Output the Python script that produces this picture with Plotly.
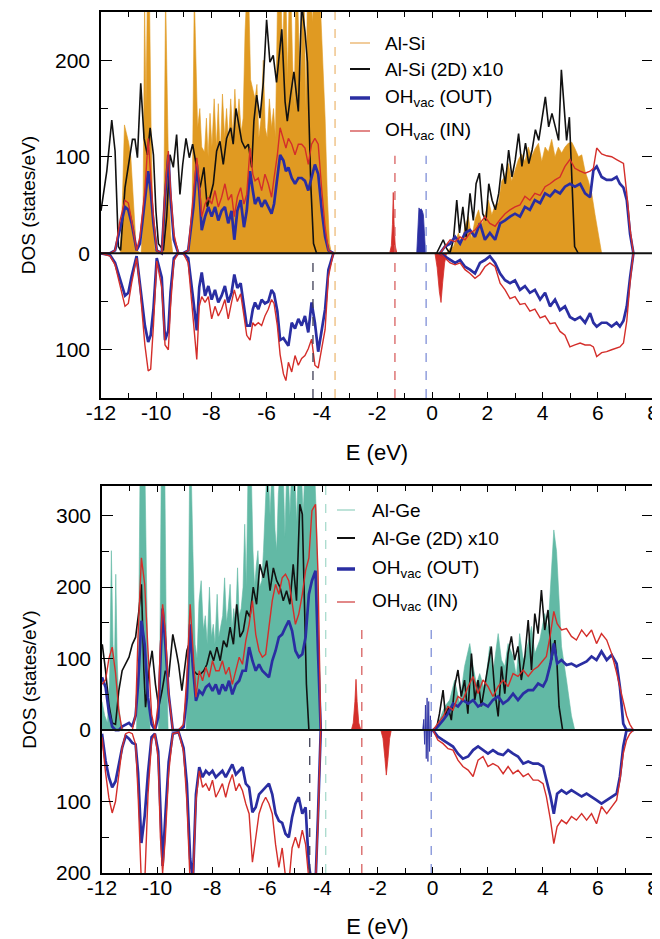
import plotly.graph_objects as go

# ======================= DATA =======================
# ---- Top panel (Al-Si) ----
top_v_E = [-12.00,-11.67,-11.49,-11.31,-11.13,-11.01,-10.89,-10.71,-10.59,-10.41,
           -10.29,-10.20,-10.10,-9.98,-9.80,-9.68,-9.56,-9.48,-9.36,-9.20,
           -9.02,-8.84,-8.65,-8.53,-8.44,-8.35,-8.23,-8.11,-7.99,-7.87,
           -7.75,-7.63,-7.51,-7.39,-7.27,-7.17,-7.06,-6.94,-6.82,-6.72,
           -6.60,-6.50,-6.42,-6.30,-6.18,-6.06,-5.94,-5.82,-5.73,-5.61,
           -5.51,-5.39,-5.30,-5.21,-5.09,-4.97,-4.85,-4.73,-4.61,-4.49,
           -4.37,-4.25,-4.13,-4.00,-3.88,-3.76,-3.58]
top_v_out_up = [0,0,3,27,48,45,31,3,10,55, 85,65,31,3,0,58,102,58,14,0,
                0,3,48,92,65,24,38,48,38,48, 34,44,48,31,44,14,44,55,27,44,
                85,65,51,58,48,55,48,41,51,78, 102,96,85,89,78,72,78,78,75,65,
                78,92,82,44,17,3,0]
top_v_in_up = [0,0,3,34,55,52,34,3,17,65, 119,78,38,3,0,65,106,65,20,0,
               0,3,58,99,72,38,51,58,51,65, 48,58,72,55,61,38,58,68,51,61,
               109,82,75,78,65,82,72,58,78,102, 130,119,109,119,113,102,113,113,109,92,
               113,119,113,65,27,3,0]
top_v_out_dn = [0,-2,-10,-27,-44,-41,-24,-3,-30,-75, -92,-85,-58,-5,-25,-90,-80,-40,-5,0,
                0,-5,-50,-80,-35,-20,-44,-34,-48,-38, -51,-44,-34,-51,-41,-22,-36,-31,-55,-75,
                -75,-58,-51,-58,-48,-52,-50,-38,-42,-60, -90,-88,-92,-96,-72,-78,-68,-75,-65,-82,
                -51,-72,-102,-79,-58,-17,0]
top_v_in_dn = [0,-3,-12,-35,-55,-52,-31,-5,-35,-95, -122,-120,-75,-8,-35,-95,-100,-55,-8,0,
               0,-10,-70,-110,-55,-45,-51,-45,-68,-55, -65,-58,-48,-68,-51,-38,-50,-42,-65,-85,
               -90,-72,-75,-72,-75,-65,-58,-48,-52,-75, -105,-125,-132,-113,-123,-106,-116,-109,-106,-99,
               -89,-116,-119,-99,-79,-24,0]

top_c_E = [0.28,0.46,0.65,0.83,1.01,1.19,1.37,1.55,1.73,1.91,
           2.09,2.28,2.46,2.64,2.82,3.00,3.18,3.36,3.54,3.72,
           3.91,4.09,4.27,4.45,4.63,4.81,4.99,5.17,5.36,5.54,
           5.72,5.84,5.96,6.14,6.32,6.50,6.68,6.80,6.93,7.05,
           7.17,7.29]
top_c_out_up = [0,7,10,17,10,21,24,17,31,14, 21,14,31,34,38,41,38,48,45,55,
                52,62,59,65,62,69,72,69,72,62, 58,86,90,79,76,76,79,72,68,55, 20,0]
top_c_in_up = [0,7,14,12,17,14,21,24,31,38, 31,28,35,41,45,48,50,59,55,62,
               60,69,72,76,79,90,97,88,85,83, 85,88,109,103,101,100,97,95,93,62, 25,0]
top_c_out_dn = [0,-3,-7,-10,-7,-14,-17,-21,-10,-7, -3,-10,-21,-28,-31,-28,-38,-34,-41,-38,
                -48,-41,-55,-48,-59,-55,-66,-69,-66,-72, -62,-72,-76,-72,-72,-76,-72,-76,-70,-55, -25,0]
top_c_in_dn = [0,-5,-10,-12,-10,-17,-21,-26,-22,-14, -10,-14,-31,-38,-47,-45,-53,-52,-60,-58,
               -67,-65,-73,-72,-81,-85,-97,-95,-93,-95, -95,-97,-107,-103,-102,-100,-98,-97,-93,-70, -30,0]

top_2d_vE = [-12.00,-11.79,-11.61,-11.49,-11.37,-11.29,-11.13,-11.01,-10.86,-10.77,
             -10.68,-10.56,-10.44,-10.32,-10.22,-10.10,-10.01,-9.92,-9.74,-9.62,
             -9.50,-9.38,-9.26,-9.14,-9.04,-8.92,-8.80,-8.68,-8.53,-8.41,
             -8.27,-8.15,-8.05,-7.93,-7.81,-7.69,-7.57,-7.45,-7.30,-7.21,
             -7.11,-7.02,-6.90,-6.78,-6.66,-6.54,-6.46,-6.36,-6.24,-6.12,
             -6.00,-5.88,-5.76,-5.64,-5.45,-5.33,-5.25,-5.13,-5.01,-4.85,
             -4.73,-4.61,-4.52,-4.40,-4.30,-4.19]
top_2d_v = [44,85,138,106,7,3,68,89,118,118, 99,176,119,102,130,102,44,10,3,38,
            102,89,123,61,92,119,99,113,89,68, 89,48,58,72,106,116,92,119,130,113,
            150,137,116,109,113,89,137,164,140,177, 242,198,205,177,232,157,137,164,188,147,
            258,230,198,72,10,0]
top_2d_cE = [0.16,0.28,0.40,0.52,0.64,0.77,0.89,0.99,1.11,1.23,
             1.37,1.49,1.59,1.71,1.83,1.95,2.05,2.17,2.29,2.41,
             2.53,2.65,2.77,2.89,3.01,3.13,3.25,3.38,3.50,3.62,
             3.74,3.86,3.98,4.10,4.22,4.34,4.46,4.58,4.68,4.77,
             4.87,4.97,5.06,5.16,5.29]
top_2d_c = [0,7,14,5,0,14,55,21,48,17, 62,34,72,83,41,34,72,55,45,62,
            93,72,107,79,97,124,90,114,93,107, 128,117,141,162,131,145,131,117,190,155,
            117,141,69,7,0]

top_bulk_vE = [-11.30,-11.22,-11.15,-11.08,-11.00,-10.92,-10.84,-10.78,-10.72,-10.55,
               -10.48,-10.42,-10.37,-10.32,-10.25,-10.18,-10.12,-10.05,-9.95,-9.80,
               -9.72,-9.66,-9.60,-9.55,-9.48,-9.40,-8.80,-8.70,-8.62,-8.55,
               -8.50,-8.42,-8.35,-8.25,-8.18,-8.12,-8.05,-7.98,-7.90,-7.82,
               -7.75,-7.68,-7.60,-7.52,-7.45,-7.38,-7.30,-7.22,-7.15,-7.08,
               -7.00,-6.92,-6.85,-6.78,-6.72,-6.65,-6.58,-6.50,-6.42,-6.35,
               -6.28,-6.20,-6.12,-6.05,-5.98,-5.90,-5.82,-5.75,-5.68,-5.60,
               -5.55,-5.48,-5.42,-5.36,-5.30,-5.24,-5.18,-5.12,-5.06,-5.00,
               -4.94,-4.88,-4.82,-4.76,-4.70,-4.64,-4.58,-4.52,-4.46,-4.40,
               -4.34,-4.28,-4.20,-4.12,-4.04,-3.96,-3.88,-3.80,-3.72,-3.65]
top_bulk_v = [0,60,133,125,115,100,60,20,3,0, 30,260,150,270,280,120,40,5,0,0,
              60,270,160,80,20,0,0,40,270,200, 130,150,110,105,140,100,145,110,160,110,
              155,100,165,120,150,115,160,120,170,130, 160,125,140,230,270,270,180,170,160,175,
              120,140,200,130,120,160,130,150,120,270, 270,270,200,270,270,180,270,270,200,150,
              270,270,210,180,270,270,150,270,270,270, 240,270,270,270,250,200,140,60,10,0]
top_bulk_cE = [0.52,0.64,0.77,0.95,1.07,1.19,1.31,1.43,1.55,1.68,
               1.80,1.92,2.04,2.16,2.28,2.40,2.52,2.64,2.76,2.88,
               3.00,3.12,3.24,3.36,3.48,3.60,3.72,3.85,3.97,4.09,
               4.21,4.33,4.45,4.57,4.69,4.81,4.93,5.06,5.18,5.30,
               5.42,5.54,5.66,5.78,5.90,6.02,6.14]
top_bulk_c = [0,5,7,21,10,28,38,15,35,45, 30,40,55,40,50,52,75,80,93,75,
              85,97,103,95,110,100,108,114,95,110, 105,118,100,110,104,110,114,115,108,100,
              102,85,75,62,40,20,0]

top_in_peak_E = [-1.54,-1.48,-1.44,-1.41,-1.38,-1.34,-1.28]
top_in_peak = [0,8,30,63,30,8,0]
top_out_peak_E = [-0.56,-0.52,-0.48,-0.44,-0.40,-0.36,-0.32,-0.28,-0.24]
top_out_peak = [0,30,47,45,46,44,40,20,0]
top_in_dn_peak_E = [0.10,0.18,0.26,0.32,0.38,0.45,0.52]
top_in_dn_peak = [0,-15,-40,-51,-30,-10,0]

# reference levels (eV) and the DOS range of the dashed marks
top_levels_E = [-4.32, -3.52, -1.35, -0.22]
top_levels_lo = [-150, -150, -150, -150]
top_levels_hi = [0, 250, 101, 101]

# ---- Bottom panel (Al-Ge) ----
bot_v_E = [-12.00,-11.87,-11.75,-11.63,-11.51,-11.39,-11.27,-11.14,-11.02,-10.90,
           -10.78,-10.69,-10.57,-10.45,-10.33,-10.20,-10.08,-9.96,-9.88,-9.80,
           -9.70,-9.58,-9.43,-9.22,-9.04,-8.92,-8.80,-8.70,-8.59,-8.47,
           -8.35,-8.23,-8.11,-7.99,-7.87,-7.75,-7.63,-7.51,-7.39,-7.27,
           -7.14,-7.02,-6.90,-6.78,-6.66,-6.54,-6.42,-6.30,-6.18,-6.06,
           -5.94,-5.82,-5.70,-5.58,-5.46,-5.34,-5.22,-5.10,-4.98,-4.86,
           -4.73,-4.61,-4.49,-4.38,-4.25,-4.16,-4.06]
bot_v_out_up = [74,60,25,5,0,0,5,8,10,5, 20,64,153,120,46,8,0,18,92,170,
                120,50,0,0,4,45,148,88,41,55, 50,60,64,55,64,50,64,55,69,50,
                64,69,83,83,116,97,83,92,83,78, 74,97,111,130,134,144,153,139,111,102,
                106,130,190,209,223,110,0]
bot_v_in_up = [64,70,100,116,80,27,0,0,0,0, 22,134,241,204,111,22,0,37,120,176,
               139,50,0,0,8,74,176,111,46,83, 69,88,74,97,83,83,97,78,88,64,
               83,102,92,125,148,181,134,111,102,106, 144,181,204,190,213,218,209,176,148,162,
               190,223,241,307,316,220,0]
bot_v_out_dn = [-5,-43,-66,-80,-72,-50,-25,-8,-12,-18, -20,-60,-158,-120,-60,-10,-5,-30,-110,-190,
                -120,-45,-5,-3,-25,-75,-180,-210,-90,-52, -66,-57,-62,-57,-66,-62,-57,-66,-57,-48,
                -62,-57,-52,-75,-80,-115,-108,-90,-85,-80, -75,-90,-117,-127,-130,-145,-150,-122,-103,-94,
                -117,-108,-190,-215,-215,-120,0]
bot_v_in_dn = [-10,-60,-95,-116,-100,-60,-25,-5,-3,-5, -20,-90,-215,-215,-90,-15,-5,-40,-150,-200,
               -150,-60,-5,-3,-30,-100,-215,-215,-100,-57, -80,-75,-85,-70,-94,-85,-75,-94,-75,-62,
               -85,-75,-85,-103,-117,-185,-150,-117,-103,-94, -103,-117,-160,-192,-165,-205,-215,-165,-150,-165,
               -140,-160,-210,-215,-215,-130,0]

bot_c_E = [0.01,0.19,0.38,0.56,0.74,0.92,1.10,1.29,1.47,1.65,
           1.83,2.01,2.19,2.38,2.56,2.74,2.92,3.10,3.29,3.47,
           3.65,3.83,4.01,4.13,4.28,4.40,4.52,4.68,4.86,5.04,
           5.22,5.41,5.59,5.77,5.95,6.13,6.32,6.50,6.68,6.80,
           6.92,7.04,7.16,7.29]
bot_c_out_up = [0,5,14,23,37,33,42,37,42,33, 37,33,42,47,37,42,51,42,51,56,
                56,65,61,70,93,121,93,98,91,93, 89,93,96,103,98,110,98,105,93,60, 9,0,0,0]
bot_c_in_up = [0,9,19,33,28,47,42,61,75,51, 70,61,47,61,70,61,79,75,84,75,
               84,89,98,103,135,166,149,140,142,131, 126,140,131,140,121,135,126,107,80,60, 37,20,8,0]
bot_c_out_dn = [0,-9,-14,-19,-23,-33,-40,-37,-28,-23, -28,-33,-28,-33,-35,-28,-33,-37,-47,-44,
                -47,-47,-51,-70,-93,-117,-89,-84,-89,-84, -89,-93,-89,-93,-98,-103,-98,-93,-89,-65, -23,0,0,0]
bot_c_in_dn = [0,-14,-19,-26,-28,-42,-51,-56,-65,-42, -37,-51,-47,-51,-61,-51,-61,-56,-65,-61,
               -70,-70,-75,-93,-126,-159,-135,-126,-131,-121, -126,-117,-126,-117,-131,-107,-117,-107,-98,-70, -33,-14,-5,0]

bot_2d_vE = [-11.99,-11.87,-11.75,-11.63,-11.51,-11.39,-11.27,-11.14,-11.02,-10.90,
             -10.78,-10.66,-10.57,-10.48,-10.42,-10.30,-10.18,-10.06,-9.94,-9.82,
             -9.70,-9.58,-9.43,-9.31,-9.22,-9.10,-9.00,-8.92,-8.80,-8.67,
             -8.55,-8.43,-8.31,-8.19,-8.07,-7.95,-7.83,-7.71,-7.59,-7.47,
             -7.35,-7.23,-7.11,-6.99,-6.87,-6.75,-6.63,-6.51,-6.39,-6.27,
             -6.14,-6.02,-5.90,-5.78,-5.66,-5.54,-5.42,-5.30,-5.18,-5.06,
             -4.94,-4.82,-4.73,-4.64,-4.58,-4.49]
bot_2d_v = [120,83,36,10,8,55,83,92,102,120, 130,167,204,83,32,83,111,64,32,55,
            83,74,134,111,92,55,83,111,125,83, 78,78,83,92,111,97,116,97,125,116,
            144,120,176,130,139,167,158,200,176,232, 213,237,195,227,209,200,181,195,176,232,
            181,316,302,181,64,0]
bot_2d_cE = [0.13,0.25,0.38,0.47,0.56,0.68,0.80,0.92,1.04,1.16,
             1.28,1.41,1.53,1.65,1.77,1.89,2.01,2.13,2.25,2.38,
             2.50,2.62,2.74,2.86,2.98,3.10,3.22,3.35,3.47,3.59,
             3.71,3.83,3.95,4.07,4.19,4.32,4.44,4.52,4.59,4.72]
bot_2d_c = [0,23,56,19,33,14,61,84,47,70, 23,107,42,70,33,61,89,117,56,19,
            89,51,107,131,98,117,70,103,154,84, 163,135,196,140,168,98,126,89,33,0]

bot_bulk_vE = [-12.0,-11.9,-11.8,-11.72,-11.66,-11.60,-11.55,-11.50,-11.45,-11.38,
               -11.30,-11.20,-10.75,-10.68,-10.62,-10.55,-10.50,-10.44,-10.38,-10.32,
               -10.25,-9.95,-9.90,-9.85,-9.78,-9.72,-9.66,-9.60,-8.95,-8.88,
               -8.82,-8.76,-8.70,-8.62,-8.55,-8.48,-8.40,-8.32,-8.25,-8.18,
               -8.10,-8.03,-7.96,-7.90,-7.82,-7.76,-7.70,-7.62,-7.55,-7.48,
               -7.42,-7.35,-7.28,-7.22,-7.15,-7.08,-7.02,-6.95,-6.88,-6.82,
               -6.76,-6.70,-6.64,-6.58,-6.52,-6.46,-6.40,-6.34,-6.28,-6.20,
               -6.14,-6.08,-6.02,-5.96,-5.90,-5.84,-5.78,-5.72,-5.66,-5.60,
               -5.54,-5.48,-5.42,-5.36,-5.30,-5.24,-5.18,-5.12,-5.06,-5.00,
               -4.94,-4.88,-4.82,-4.76,-4.70,-4.64,-4.58,-4.52,-4.46,-4.40,
               -4.34,-4.28,-4.22,-4.16,-4.10,-4.05]
bot_bulk_v = [40,20,10,80,251,120,80,218,100,30, 5,0,0,80,360,360,360,360,200,50,
              0,0,100,360,360,360,100,0,0,100, 360,360,250,120,100,180,209,140,160,120,
              200,130,148,120,190,130,143,160,213,150, 170,204,140,170,150,227,160,170,200,288,
              200,360,360,360,251,200,230,251,200,209, 250,300,360,360,300,360,360,280,251,330,
              360,360,360,270,360,360,300,360,360,360, 290,360,360,360,300,360,360,360,360,360,
              360,360,300,200,60,0]
bot_bulk_cE = [0.01,0.13,0.25,0.44,0.62,0.80,0.98,1.16,1.35,1.47,
               1.59,1.71,1.89,2.07,2.19,2.38,2.50,2.62,2.74,2.92,
               3.04,3.16,3.29,3.41,3.59,3.71,3.89,4.07,4.19,4.32,
               4.40,4.50,4.59,4.68,4.86,5.04,5.16]
bot_bulk_c = [0,3,14,33,42,70,37,89,121,89, 65,79,56,117,79,135,98,89,121,103,
              75,135,98,112,145,107,126,163,140,230, 280,250,180,117,70,20,0]

bot_in_peak_E = [-2.95,-2.88,-2.82,-2.78,-2.74,-2.68,-2.60]
bot_in_peak = [0,10,40,71,40,10,0]
bot_in_dn_peak_E = [-1.88,-1.80,-1.73,-1.68,-1.62,-1.56,-1.50]
bot_in_dn_peak = [0,-12,-40,-63,-40,-12,0]
bot_out_peak_E = [-0.36,-0.32,-0.29,-0.26,-0.23,-0.20,-0.17,-0.14,-0.11,-0.08,-0.05,-0.02]
bot_out_peak = [0,15,-20,35,-40,45,-44,40,-30,20,-10,0]

bot_levels_E = [-4.46, -3.88, -2.57, -0.05]
bot_levels_lo = [-200, -200, -200, -200]
bot_levels_hi = [0, 342, 144, 147]

x_ticks = [-12, -10, -8, -6, -4, -2, 0, 2, 4, 6, 8]
x_ticklabels = ["-12", "-10", "-8", "-6", "-4", "-2", "0", "2", "4", "6", "8"]
x_minor = [-11, -9, -7, -5, -3, -1, 1, 3, 5, 7]
top_yticks = [-100, 0, 100, 200]
top_yminor = [-150, -50, 50, 150, 250]
bot_yticks = [-200, -100, 0, 100, 200, 300]
bot_yminor = [-150, -50, 50, 150, 250]

top_legend = ["Al-Si", "Al-Si (2D) x10", "OH<sub>vac</sub> (OUT)", "OH<sub>vac</sub> (IN)"]
bot_legend = ["Al-Ge", "Al-Ge (2D) x10", "OH<sub>vac</sub> (OUT)", "OH<sub>vac</sub> (IN)"]

# ======================= STYLE / LAYOUT =======================
OFF = 8                    # page body margin of the html page
PAGE_W, PAGE_H = 660, 939
W, H = PAGE_W - OFF, PAGE_H - OFF
FONT = "Liberation Sans, Arial, sans-serif"
ORANGE = "#E09A22"
ORANGE_LT = "#EDBB7A"
TEAL = "#62B9A5"
TEAL_LT = "#A9DACD"
BLUE = "#2A2EA2"
BLUE_LT = "#8090D8"
RED = "#D42E2A"
RED_LT = "#D86060"
BLACK = "#111111"
GRAY = "#3E3E55"


def px_x(X):
    return (X - OFF) / W


def px_y(Y):
    return 1 - (Y - OFF) / H


fig = go.Figure()


def line(x, y, color, width, xa, ya):
    fig.add_trace(go.Scatter(x=x, y=y, mode="lines", line=dict(color=color, width=width),
                             xaxis=xa, yaxis=ya, showlegend=False, hoverinfo="skip"))


def fill(x, y, color, xa, ya, lw=0.6):
    fig.add_trace(go.Scatter(x=x, y=y, mode="lines", fill="tozeroy", fillcolor=color,
                             line=dict(color=color, width=lw), xaxis=xa, yaxis=ya,
                             showlegend=False, hoverinfo="skip"))


def panel(xa, ya, bulk_col,
          bvE, bv, bcE, bc, dvE, dv, dcE, dc,
          vE, out_up, in_up, out_dn, in_dn, cE, cout_up, cin_up, cout_dn, cin_dn,
          peaks):
    fill(bvE + bcE, bv + bc, bulk_col, xa, ya)
    line(dvE + dcE, dv + dc, BLACK, 1.6, xa, ya)
    for E, v, col in peaks:
        fill(E, v, col, xa, ya, lw=0.8)
    for x, y in [(vE, out_up), (vE, out_dn), (cE, cout_up), (cE, cout_dn)]:
        line(x, y, BLUE, 2.7, xa, ya)
    for x, y in [(vE, in_up), (vE, in_dn), (cE, cin_up), (cE, cin_dn)]:
        line(x, y, RED, 1.4, xa, ya)


panel("x", "y", ORANGE,
      top_bulk_vE, top_bulk_v, top_bulk_cE, top_bulk_c,
      top_2d_vE, top_2d_v, top_2d_cE, top_2d_c,
      top_v_E, top_v_out_up, top_v_in_up, top_v_out_dn, top_v_in_dn,
      top_c_E, top_c_out_up, top_c_in_up, top_c_out_dn, top_c_in_dn,
      [(top_in_peak_E, top_in_peak, RED), (top_out_peak_E, top_out_peak, BLUE),
       (top_in_dn_peak_E, top_in_dn_peak, RED)])

panel("x2", "y2", TEAL,
      bot_bulk_vE, bot_bulk_v, bot_bulk_cE, bot_bulk_c,
      bot_2d_vE, bot_2d_v, bot_2d_cE, bot_2d_c,
      bot_v_E, bot_v_out_up, bot_v_in_up, bot_v_out_dn, bot_v_in_dn,
      bot_c_E, bot_c_out_up, bot_c_in_up, bot_c_out_dn, bot_c_in_dn,
      [(bot_in_peak_E, bot_in_peak, RED), (bot_in_dn_peak_E, bot_in_dn_peak, RED),
       (bot_out_peak_E, bot_out_peak, BLUE)])

shapes = []
annotations = []
for xr, yr, Es, los, his, cols in [
        ("x", "y", top_levels_E, top_levels_lo, top_levels_hi, [GRAY, ORANGE_LT, RED_LT, BLUE_LT]),
        ("x2", "y2", bot_levels_E, bot_levels_lo, bot_levels_hi, [GRAY, TEAL_LT, RED_LT, BLUE_LT])]:
    for E, lo, hi, c in zip(Es, los, his, cols):
        shapes.append(dict(type="line", xref=xr, yref=yr, x0=E, x1=E, y0=lo, y1=hi,
                           line=dict(color=c, width=1.3, dash="dash"), layer="above"))
    shapes.append(dict(type="line", xref=xr + " domain", yref=yr, x0=0, x1=1, y0=0, y1=0,
                       line=dict(color=BLACK, width=2), layer="above"))

# legends (drawn as keyed text entries)
legend_specs = [
    (top_legend, [ORANGE_LT, BLACK, BLUE, RED_LT], (350, 370, 383), [43, 69, 98, 131]),
    (bot_legend, [TEAL_LT, BLACK, BLUE, RED_LT], (337, 355, 370), [510, 538, 569, 602]),
]
widths = [1.5, 2.0, 3.5, 1.5]
for labels, cols, (x0, x1, xt), rows in legend_specs:
    for lab, c, w, yrow in zip(labels, cols, widths, rows):
        shapes.append(dict(type="line", xref="paper", yref="paper", x0=px_x(x0), x1=px_x(x1),
                           y0=px_y(yrow), y1=px_y(yrow), line=dict(color=c, width=w)))
        sub = "<sub>" in lab
        annotations.append(dict(text=lab, xref="paper", yref="paper", x=px_x(xt),
                                y=px_y(yrow - (3 if sub else 0)) if sub else px_y(yrow),
                                xanchor="left", yanchor="top" if sub else "middle",
                                yshift=11 if sub else 0,
                                showarrow=False, align="left",
                                font=dict(family=FONT, size=19, color="black")))

tickfont = dict(family=FONT, size=21, color="black")


def xaxis(x_left, x_right, anchor):
    return dict(domain=[px_x(x_left), px_x(x_right)], anchor=anchor, range=[-12, 8],
                tickmode="array", tickvals=x_ticks, ticktext=x_ticklabels, ticks="inside",
                ticklen=6, tickwidth=1.2, tickcolor="black", showline=True, linecolor="black",
                linewidth=1.5, mirror="allticks", showgrid=False, zeroline=False,
                minor=dict(tickvals=x_minor, ticks="inside", ticklen=5, tickwidth=1.2,
                           tickcolor="black", showgrid=False),
                tickfont=tickfont, ticklabelstandoff=-5,
                title=dict(text="E (eV)", font=dict(family=FONT, size=22, color="black"),
                           standoff=22))


def yaxis(y_top, y_bottom, anchor, rng, ticks, minor):
    return dict(domain=[px_y(y_bottom), px_y(y_top)], anchor=anchor, range=rng,
                tickmode="array", tickvals=ticks, ticktext=[str(abs(t)) for t in ticks],
                ticks="inside", ticklen=11, tickwidth=1.2, tickcolor="black", showline=True,
                linecolor="black", linewidth=1.5, mirror="allticks", showgrid=False,
                zeroline=False,
                minor=dict(tickvals=minor, ticks="inside", ticklen=7, tickwidth=1.2,
                           tickcolor="black", showgrid=False),
                tickfont=tickfont, ticklabelstandoff=5,
                title=dict(text="DOS (states/eV)",
                           font=dict(family=FONT, size=19, color="black"), standoff=14))


fig.update_layout(
    width=W, height=H, template="none", paper_bgcolor="white", plot_bgcolor="white",
    margin=dict(l=0, r=0, t=0, b=0),
    xaxis=xaxis(101, 653, "y"),
    yaxis=yaxis(12, 398, "x", [-150, 250], top_yticks, top_yminor),
    xaxis2=xaxis(102, 653, "y2"),
    yaxis2=yaxis(486, 873, "x2", [-200, 341.5], bot_yticks, bot_yminor),
    shapes=shapes,
    annotations=annotations,
    showlegend=False,
)

fig.write_html("out.html")
